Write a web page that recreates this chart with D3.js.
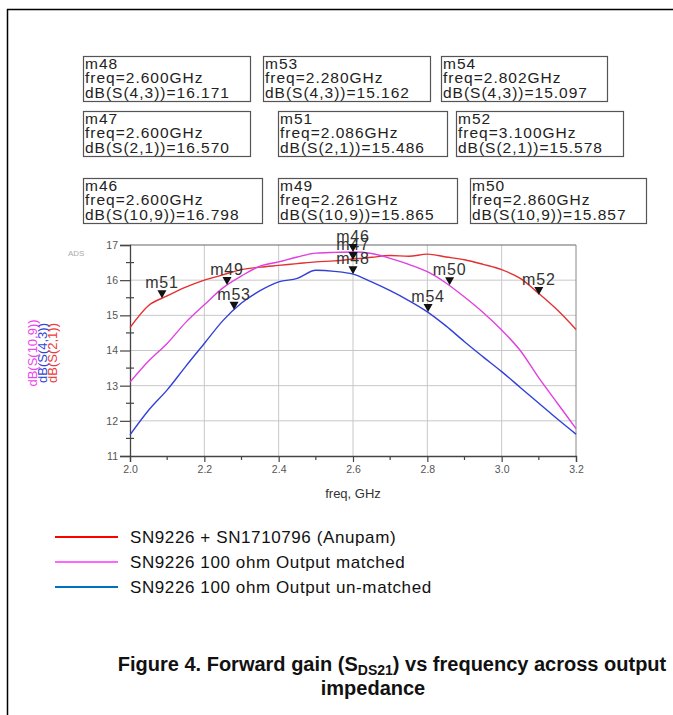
<!DOCTYPE html>
<html>
<head>
<meta charset="utf-8">
<script src="https://cdn.jsdelivr.net/npm/d3@7"></script>
<style>
  body { margin: 0; background: #fff; }
  svg { display: block; }
</style>
</head>
<body>
<svg width="673" height="715"></svg>
<script>
// frequency points (GHz)
const freqs = [2.00, 2.05, 2.10, 2.15, 2.20, 2.25, 2.30, 2.35, 2.40, 2.45, 2.50, 2.55, 2.60,
  2.65, 2.70, 2.75, 2.80, 2.85, 2.90, 2.95, 3.00, 3.05, 3.10, 3.15, 3.20];
// dB(S(2,1)) - SN9226 + SN1710796 (Anupam)
const s21 = [14.65, 15.28, 15.55, 15.80, 16.00, 16.15, 16.30, 16.37, 16.42, 16.47, 16.52, 16.55, 16.60,
  16.65, 16.70, 16.68, 16.74, 16.66, 16.58, 16.45, 16.30, 16.05, 15.62, 15.15, 14.60];
// dB(S(10,9)) - output matched
const s109 = [13.10, 13.70, 14.20, 14.80, 15.30, 15.78, 16.12, 16.40, 16.52, 16.66, 16.77, 16.79, 16.80,
  16.76, 16.62, 16.45, 16.24, 15.92, 15.52, 15.08, 14.58, 14.00, 13.22, 12.50, 11.78];
// dB(S(4,3)) - output un-matched
const s43 = [11.60, 12.30, 12.88, 13.55, 14.20, 14.85, 15.35, 15.70, 15.95, 16.05, 16.28, 16.25, 16.17,
  15.95, 15.70, 15.42, 15.10, 14.70, 14.25, 13.82, 13.40, 12.95, 12.50, 12.05, 11.62];

// markers
const markerNames = ["m48", "m53", "m54", "m47", "m51", "m52", "m46", "m49", "m50"];
const markerFreqs = [2.600, 2.280, 2.802, 2.600, 2.086, 3.100, 2.600, 2.261, 2.860];
const markerTraces = ["S(4,3)", "S(4,3)", "S(4,3)", "S(2,1)", "S(2,1)", "S(2,1)", "S(10,9)", "S(10,9)", "S(10,9)"];
const markerValues = [16.171, 15.162, 15.097, 16.570, 15.486, 15.578, 16.798, 15.865, 15.857];

const xTicks = [2.0, 2.2, 2.4, 2.6, 2.8, 3.0, 3.2];
const yTicks = [11, 12, 13, 14, 15, 16, 17];

const legendLabels = ["SN9226 + SN1710796 (Anupam)", "SN9226 100 ohm Output matched", "SN9226 100 ohm Output un-matched"];

const svg = d3.select("svg");
const font = "'Liberation Sans', Arial, sans-serif";

// page frame
svg.append("line").attr("x1", 7).attr("x2", 673).attr("y1", 9.5).attr("y2", 9.5)
  .attr("stroke", "#000").attr("stroke-width", 1.5);
svg.append("line").attr("x1", 7.5).attr("x2", 7.5).attr("y1", 9).attr("y2", 715)
  .attr("stroke", "#000").attr("stroke-width", 1.5);

// marker readout boxes
const boxX = [83, 263, 441, 83, 278, 456, 83, 278, 470];
const boxW = [167, 167, 166, 167, 169, 167, 179, 179, 176];
const boxY = [56, 56, 56, 111, 111, 111, 178, 178, 178];
markerNames.forEach((name, i) => {
  const g = svg.append("g").attr("transform", `translate(${boxX[i]},${boxY[i]})`);
  g.append("rect").attr("x", 0.5).attr("y", 0.5).attr("width", boxW[i]).attr("height", 45)
    .attr("fill", "none").attr("stroke", "#555").attr("stroke-width", 1.2);
  const lines = [name, "freq=" + markerFreqs[i].toFixed(3) + "GHz",
    "dB(" + markerTraces[i] + ")=" + markerValues[i].toFixed(3)];
  lines.forEach((t, j) => {
    g.append("text").attr("x", 2).attr("y", 12.5 + j * 14.5).text(t)
      .attr("font-family", font).attr("font-size", 15.5).attr("letter-spacing", 1.0).attr("fill", "#222");
  });
});

// plot area
const x0 = 130, x1 = 576, y0 = 245, y1 = 456;
const xScale = d3.scaleLinear().domain([2.0, 3.2]).range([x0, x1]);
const yScale = d3.scaleLinear().domain([11, 17]).range([y1, y0]);

// grid
svg.append("g").selectAll("line").data(xTicks.slice(1, -1)).enter().append("line")
  .attr("x1", d => xScale(d)).attr("x2", d => xScale(d)).attr("y1", y0).attr("y2", y1)
  .attr("stroke", "#c8c8c8").attr("stroke-width", 1);
svg.append("g").selectAll("line").data(yTicks.slice(1, -1)).enter().append("line")
  .attr("x1", x0).attr("x2", x1).attr("y1", d => yScale(d)).attr("y2", d => yScale(d))
  .attr("stroke", "#c8c8c8").attr("stroke-width", 1);

// border top/right
svg.append("line").attr("x1", x0).attr("x2", x1).attr("y1", y0).attr("y2", y0)
  .attr("stroke", "#666").attr("stroke-width", 1.2);
svg.append("line").attr("x1", x1).attr("x2", x1).attr("y1", y0).attr("y2", y1)
  .attr("stroke", "#888").attr("stroke-width", 1);

// axes
const xAxis = svg.append("g").attr("transform", `translate(0,${y1})`)
  .call(d3.axisBottom(xScale).tickValues(xTicks).tickFormat(d3.format(".1f")).tickSize(6).tickPadding(4));
const yAxis = svg.append("g").attr("transform", `translate(${x0},0)`)
  .call(d3.axisLeft(yScale).tickValues(yTicks).tickFormat(d3.format("d")).tickSize(10).tickPadding(2));
[xAxis, yAxis].forEach(a => {
  a.select(".domain").attr("stroke", "#444").attr("stroke-width", 1.3);
  a.selectAll(".tick line").attr("stroke", "#444").attr("stroke-width", 1.2);
  a.selectAll("text").attr("font-family", font).attr("font-size", 10.5).attr("fill", "#555");
});
// minor ticks
const xMinor = d3.range(2.1, 3.2, 0.2);
svg.append("g").selectAll("line").data(xMinor).enter().append("line")
  .attr("x1", d => xScale(d)).attr("x2", d => xScale(d)).attr("y1", y1).attr("y2", y1 + 4)
  .attr("stroke", "#444").attr("stroke-width", 1.2);
const yMinor = d3.range(11.5, 17, 1);
svg.append("g").selectAll("line").data(yMinor).enter().append("line")
  .attr("x1", x0 - 4).attr("x2", x0 + 4).attr("y1", d => yScale(d)).attr("y2", d => yScale(d))
  .attr("stroke", "#444").attr("stroke-width", 1.2);

svg.append("text").attr("x", (x0 + x1) / 2).attr("y", 498).attr("text-anchor", "middle")
  .attr("font-family", font).attr("font-size", 13).attr("fill", "#333").text("freq, GHz");
svg.append("text").attr("x", 68).attr("y", 256).attr("font-family", font)
  .attr("font-size", 8).attr("fill", "#aaa").text("ADS");

// rotated y labels
const yLabels = [["dB(S(10,9))", "#ee44ee", 37], ["dB(S(4,3))", "#3344dd", 47], ["dB(S(2,1))", "#ee3a3a", 57]];
yLabels.forEach(([t, c, xp]) => {
  svg.append("text").attr("transform", `translate(${xp},353) rotate(-90)`).attr("text-anchor", "middle")
    .attr("font-family", font).attr("font-size", 13).attr("fill", c).text(t);
});

// curves
const series = [
  { vals: s21, color: "#e33030" },
  { vals: s109, color: "#e040e0" },
  { vals: s43, color: "#3340d8" }
];
const line = d3.line().x((d, i) => xScale(freqs[i])).y(d => yScale(d)).curve(d3.curveMonotoneX);
series.forEach(s => {
  svg.append("path").datum(s.vals).attr("d", line).attr("fill", "none")
    .attr("stroke", s.color).attr("stroke-width", 1.4);
});

// marker triangles and labels
markerNames.forEach((name, i) => {
  const mx = xScale(markerFreqs[i]), my = yScale(markerValues[i]);
  svg.append("path").attr("d", `M${mx - 4.5},${my - 8}L${mx + 4.5},${my - 8}L${mx},${my}Z`).attr("fill", "#111");
  svg.append("text").attr("x", mx).attr("y", my - 10).attr("text-anchor", "middle")
    .attr("font-family", font).attr("font-size", 16).attr("letter-spacing", 0.8).attr("fill", "#333").text(name);
});

// legend
const legendColors = ["#ff0000", "#ff66ff", "#0070c0"];
legendLabels.forEach((t, i) => {
  const ly = 537 + i * 25;
  svg.append("line").attr("x1", 55).attr("x2", 118).attr("y1", ly).attr("y2", ly)
    .attr("stroke", legendColors[i]).attr("stroke-width", 2);
  svg.append("text").attr("x", 130).attr("y", ly + 6).attr("font-family", font)
    .attr("font-size", 17).attr("letter-spacing", 0.6).attr("fill", "#111").text(t);
});

// caption
const cap = svg.append("text").attr("x", 392).attr("y", 671).attr("text-anchor", "middle")
  .attr("font-family", font).attr("font-weight", "bold").attr("font-size", 20).attr("fill", "#111");
cap.append("tspan").text("Figure 4. Forward gain (S");
cap.append("tspan").attr("font-size", 14).attr("dy", 4).text("DS21");
cap.append("tspan").attr("dy", -4).text(") vs frequency across output");
svg.append("text").attr("x", 373).attr("y", 695).attr("text-anchor", "middle")
  .attr("font-family", font).attr("font-weight", "bold").attr("font-size", 20).attr("fill", "#111").text("impedance");
</script>
</body>
</html>
